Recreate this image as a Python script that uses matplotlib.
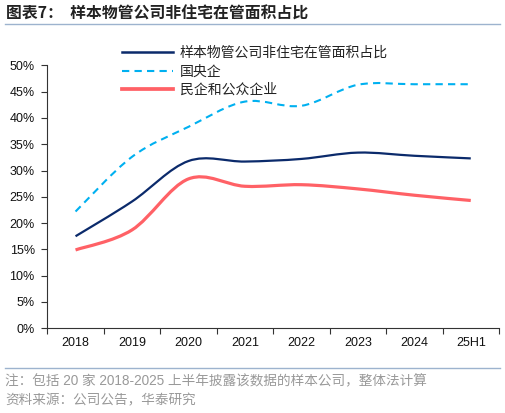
import matplotlib
matplotlib.use("Agg")
import matplotlib.pyplot as plt
from matplotlib.path import Path
from matplotlib.patches import PathPatch
from matplotlib.lines import Line2D
import numpy as np

categories = ["2018", "2019", "2020", "2021", "2022", "2023", "2024", "25H1"]
sample_total = [17.5, 24.1, 31.8, 31.7, 32.2, 33.4, 32.8, 32.3]
soe = [22.2, 32.6, 38.3, 43.1, 42.3, 46.3, 46.4, 46.4]
private = [14.9, 18.7, 28.4, 27.0, 27.3, 26.5, 25.3, 24.3]
series_names = ["样本物管公司非住宅在管面积占比", "国央企", "民企和公众企业"]
yticks = [0, 5, 10, 15, 20, 25, 30, 35, 40, 45, 50]

title = "图表7：  样本物管公司非住宅在管面积占比"
note1 = "注：包括 20 家 2018-2025 上半年披露该数据的样本公司，整体法计算"
note2 = "资料来源：公司公告，华泰研究"

NAVY = "#0B2A6B"
BLUE = "#00B0F0"
RED = "#FF6166"

W, H = 505, 413
fig = plt.figure(figsize=(W / 100, H / 100), dpi=100)
ax = fig.add_axes([47.3 / W, 1 - 328.3 / H, (499 - 47.3) / W, (328.3 - 65.3) / H])

def smooth_path(xs, ys):
    xs = np.asarray(xs, float); ys = np.asarray(ys, float)
    n = len(xs)
    verts = [(xs[0], ys[0])]
    codes = [Path.MOVETO]
    for i in range(n - 1):
        p0 = np.array([xs[max(i - 1, 0)], ys[max(i - 1, 0)]])
        p1 = np.array([xs[i], ys[i]])
        p2 = np.array([xs[i + 1], ys[i + 1]])
        p3 = np.array([xs[min(i + 2, n - 1)], ys[min(i + 2, n - 1)]])
        c1 = p1 + (p2 - p0) / 6.0
        c2 = p2 - (p3 - p1) / 6.0
        verts += [tuple(c1), tuple(c2), tuple(p2)]
        codes += [Path.CURVE4] * 3
    return Path(verts, codes)

xpos = np.arange(len(categories)) + 0.5
styles = [
    dict(color=NAVY, lw=1.6, ls="-", llw=1.8),
    dict(color=BLUE, lw=1.5, ls=(0, (3.5, 2.5)), llw=1.5),
    dict(color=RED, lw=2.3, ls="-", llw=2.7),
]
handles = []
for vals, st, name in zip([sample_total, soe, private], styles, series_names):
    p = smooth_path(xpos, vals)
    patch = PathPatch(p, fill=False, edgecolor=st["color"], lw=st["lw"],
                      linestyle=st["ls"], capstyle="butt", joinstyle="round")
    ax.add_patch(patch)
    handles.append(Line2D([], [], color=st["color"], lw=st["llw"],
                          linestyle=st["ls"], label=name))

ax.set_xlim(0, len(categories))
ax.set_ylim(0, 50)
ax.set_yticks(yticks)
ax.set_yticklabels([f"{v}%" for v in yticks])
ax.set_xticks(np.arange(len(categories) + 1))
ax.set_xticklabels([])
ax.set_xticks(xpos, minor=True)
ax.set_xticklabels(categories, minor=True)
ax.tick_params(axis="x", which="major", direction="out", length=4, width=0.8, color="#333333")
ax.tick_params(axis="x", which="minor", length=0, pad=6.5, labelsize=9, labelcolor="#111111")
ax.tick_params(axis="y", direction="out", length=4, width=0.8, pad=5, labelsize=9,
               color="#333333", labelcolor="#111111")
for lab in ax.get_yticklabels() + ax.get_xticklabels(minor=True):
    lab.set_family(["Liberation Sans", "DejaVu Sans"])
for s in ["top", "right"]:
    ax.spines[s].set_visible(False)
for s in ["left", "bottom"]:
    ax.spines[s].set_color("#333333")
    ax.spines[s].set_linewidth(0.8)

leg = fig.legend(handles=handles, loc="upper left",
                 bbox_to_anchor=(122 / W, 1 - 46 / H), frameon=False,
                 prop={"family": ["Noto Sans CJK SC", "DejaVu Sans"], "size": 10},
                 handlelength=3.65, handletextpad=0.5, labelspacing=0.33,
                 borderpad=0, borderaxespad=0)
for t in leg.get_texts():
    t.set_color("#222222")

# title and separators
fig.text(6 / W, 1 - 14 / H, title, ha="left", va="center", fontsize=11.4, fontweight="bold",
         family=["Noto Sans CJK SC", "DejaVu Sans"], color="#222222")
fig.add_artist(Line2D([5 / W, 500 / W], [1 - 24 / H, 1 - 24 / H], color="#9DB3CE", lw=1.0))
fig.add_artist(Line2D([5 / W, 500 / W], [1 - 368 / H, 1 - 368 / H], color="#9DB3CE", lw=1.0))
fig.text(5 / W, 1 - 381 / H, note1, ha="left", va="center", fontsize=9.8,
         family=["Liberation Sans", "Noto Sans CJK SC"], color="#999999")
fig.text(5 / W, 1 - 400 / H, note2, ha="left", va="center", fontsize=9.8,
         family=["Noto Sans CJK SC", "DejaVu Sans"], color="#999999")

fig.savefig("out.png", dpi=100)
